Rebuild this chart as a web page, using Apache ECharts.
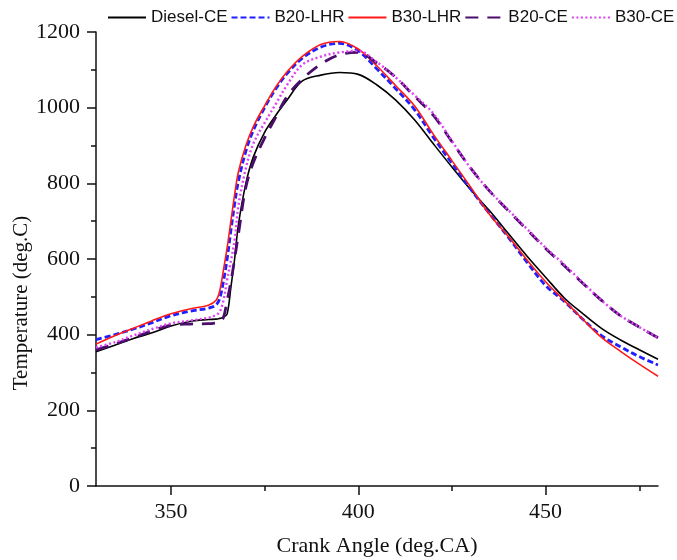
<!DOCTYPE html>
<html>
<head>
<meta charset="utf-8">
<script src="https://cdn.jsdelivr.net/npm/echarts@6/dist/echarts.min.js"></script>
<style>html,body{margin:0;padding:0;background:#fff}#c{width:677px;height:560px}</style>
</head>
<body>
<div id="c"></div>
<script>
const crankAngle = [330,335,340,345,350,355,360,362,363,364,365,366,367,368,370,372,375,378,381,385,390,395,400,405,410,415,420,425,430,435,440,445,450,455,460,465,470,475,480];
const dieselCE = [355,372,390,405,423,435,440,441,443,446,455,525,600,690,800,870,935,980,1020,1070,1086,1093,1088,1060,1020,968,905,843,783,728,668,608,552,497,455,416,386,360,335];
const b20LHR   = [387,400,415,432,450,462,470,478,495,540,600,675,745,805,885,940,1000,1050,1090,1130,1160,1170,1150,1102,1050,995,922,853,785,720,658,592,530,488,440,397,368,342,320];
const b30LHR   = [375,397,417,437,455,468,478,490,515,570,630,700,770,830,900,950,1005,1055,1095,1135,1167,1175,1155,1110,1058,1005,930,860,790,718,660,598,540,490,440,392,356,322,290];
const b20CE    = [360,375,392,410,425,428,429,431,433,445,490,540,600,665,790,855,920,975,1030,1075,1115,1140,1146,1118,1080,1030,980,910,840,780,728,678,628,582,535,490,450,420,392];
const b30CE    = [366,380,398,415,430,437,445,452,460,490,545,595,650,740,840,905,960,1010,1060,1113,1135,1146,1150,1120,1080,1033,985,912,840,780,730,680,630,585,537,490,450,420,392];
const seriesNames = ['Diesel-CE','B20-LHR','B30-LHR','B20-CE','B30-CE'];
const xMajorTicks = [350,400,450];
const xMinorTicks = [375,425,475];

const pair = ys => crankAngle.map((x,i)=>[x, ys[i]]);
const styles = [
  {color:'#000000', width:1.6, type:'solid'},
  {color:'#1f1fff', width:2.8, type:[6,3]},
  {color:'#ff1a1a', width:1.6, type:'solid'},
  {color:'#4a0d6b', width:2.8, type:[13,9]},
  {color:'#e040f5', width:2.4, type:[2,2.5]}
];
const datasets = [dieselCE,b20LHR,b30LHR,b20CE,b30CE];

const chart = echarts.init(document.getElementById('c'), null, {renderer:'canvas'});
chart.setOption({
  animation:false,
  backgroundColor:'#fff',
  legend:{
    top:9, left:107, width:640, padding:0, itemWidth:38, itemHeight:14, itemGap:3,
    itemStyle:{opacity:0},
    textStyle:{fontFamily:'Liberation Sans', fontSize:17, color:'#111'},
    data:seriesNames
  },
  grid:{left:96, right:19, top:32, bottom:74, containLabel:false, outerBoundsMode:'none'},
  xAxis:[{
    type:'value', min:330, max:480,
    name:'Crank Angle (deg.CA)', nameLocation:'middle', nameGap:49,
    nameTextStyle:{fontFamily:'Liberation Serif', fontSize:22, color:'#111'},
    axisLine:{lineStyle:{color:'#111', width:1.5}},
    axisTick:{show:true, length:9, customValues:xMajorTicks, lineStyle:{color:'#111', width:1.5}},
    axisLabel:{fontFamily:'Liberation Serif', fontSize:22, color:'#111', margin:15, customValues:xMajorTicks},
    splitLine:{show:false}
  },{
    type:'value', min:330, max:480, position:'bottom',
    axisLine:{show:false},
    axisTick:{show:true, length:5, customValues:xMinorTicks, lineStyle:{color:'#111', width:1.5}},
    axisLabel:{show:false},
    splitLine:{show:false}
  }],
  yAxis:{
    type:'value', min:0, max:1200, interval:200,
    name:'Temperature (deg.C)', nameLocation:'middle', nameGap:64, nameMoveOverlap:false,
    nameTextStyle:{fontFamily:'Liberation Serif', fontSize:21, color:'#111', padding:[0,88,0,0]},
    axisLine:{show:true, lineStyle:{color:'#111', width:1.5}},
    axisTick:{show:true, length:9, lineStyle:{color:'#111', width:1.5}},
    minorTick:{show:true, splitNumber:2, length:5, lineStyle:{color:'#111', width:1.5}},
    axisLabel:{fontFamily:'Liberation Serif', fontSize:22, color:'#111', margin:16, formatter:v=>String(v)},
    splitLine:{show:false}
  },
  series: datasets.map((d,i)=>({
    name:seriesNames[i], type:'line', xAxisIndex:0,
    data:pair(d), showSymbol:false, symbol:'none',
    smooth:0.35,
    lineStyle:{color:styles[i].color, width:styles[i].width, type:styles[i].type},
    itemStyle:{color:styles[i].color}
  }))
});
</script>
</body>
</html>
